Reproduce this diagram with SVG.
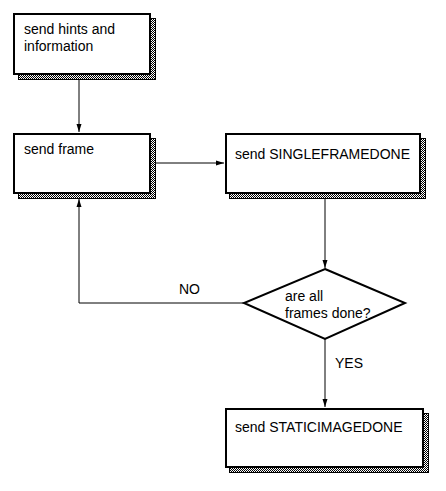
<svg xmlns="http://www.w3.org/2000/svg" width="446" height="491" viewBox="0 0 446 491">
<style>
.box{fill:#fff;stroke:#000;stroke-width:2}
.sh{fill:url(#dither);stroke:#000;stroke-width:1}
.t{font-family:"Liberation Sans",Arial,sans-serif;font-size:14px;fill:#000}
.c{fill:none;stroke:#000;stroke-width:1}
</style>
<defs>
<pattern id="dither" width="2" height="2" patternUnits="userSpaceOnUse">
<rect width="2" height="2" fill="#fff"/>
<rect width="1" height="1" fill="#000"/>
<rect x="1" y="1" width="1" height="1" fill="#000"/>
</pattern>
<marker id="ah" markerWidth="8" markerHeight="6" refX="8" refY="3" orient="auto" markerUnits="userSpaceOnUse">
<path d="M0,0.5 L8,3 L0,5.5 Z" fill="#000"/>
</marker>
</defs>
<rect width="446" height="491" fill="#fff"/>
<g id="connectors">
<path class="c" d="M79,79 V132" marker-end="url(#ah)"/>
<path class="c" d="M155,163 H224" marker-end="url(#ah)"/>
<path class="c" d="M325,198 V268" marker-end="url(#ah)"/>
<path class="c" d="M325,339 V407" marker-end="url(#ah)"/>
<path class="c" d="M244,303 H79 V199" marker-end="url(#ah)"/>
<text class="t" x="179" y="294">NO</text>
<text class="t" x="335" y="368">YES</text>
</g>
<g id="n1">
<rect class="sh" x="18.5" y="18.5" width="137" height="61"/>
<rect class="box" x="14" y="14" width="136" height="60"/>
<text class="t" x="24" y="34">send hints and</text>
<text class="t" x="24" y="51">information</text>
</g>
<g id="n2">
<rect class="sh" x="18.5" y="138.5" width="137" height="60"/>
<rect class="box" x="14" y="134" width="136" height="59"/>
<text class="t" x="24" y="154">send frame</text>
</g>
<g id="n3">
<rect class="sh" x="229.5" y="138.5" width="196" height="60"/>
<rect class="box" x="226" y="134" width="194" height="59"/>
<text class="t" x="235" y="159">send SINGLEFRAMEDONE</text>
</g>
<g id="n4">
<polygon points="325,269 405,303 325,339 244,303" fill="#fff" stroke="#000" stroke-width="2"/>
<text class="t" x="285" y="301">are all</text>
<text class="t" x="285" y="318">frames done?</text>
</g>
<g id="n5">
<rect class="sh" x="229.5" y="413.5" width="199" height="59"/>
<rect class="box" x="226" y="409" width="197" height="58"/>
<text class="t" x="235" y="432">send STATICIMAGEDONE</text>
</g>
</svg>
